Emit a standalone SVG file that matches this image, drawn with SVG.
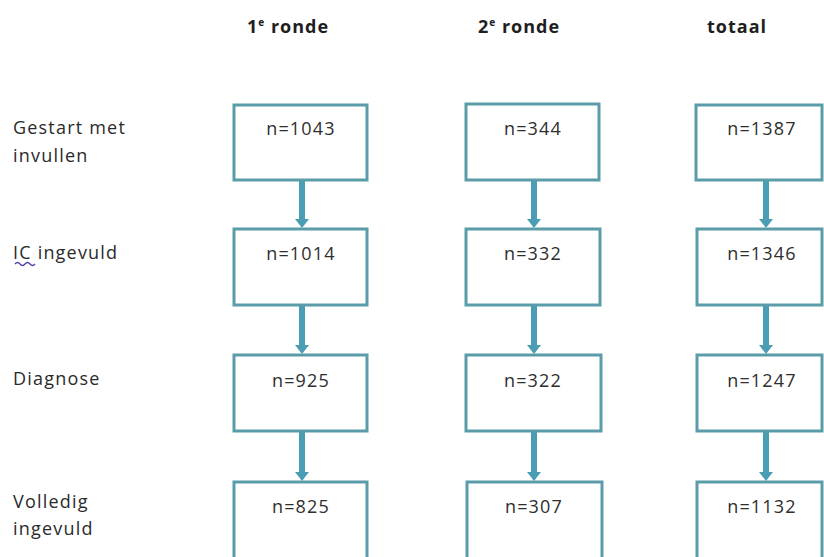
<svg xmlns="http://www.w3.org/2000/svg" width="824" height="557" viewBox="0 0 824 557">
<defs>
<style>
.hdr{font-family:"Open Sans","Liberation Sans",sans-serif;font-weight:bold;font-size:18px;fill:#1e1e1e;letter-spacing:1px}
.lbl{font-family:"Open Sans","Liberation Sans",sans-serif;font-size:18px;fill:#2a2a2a;letter-spacing:1.2px}
.box rect{fill:#ffffff;stroke:#5a9ca7;stroke-width:3}
.box text{font-family:"Open Sans","Liberation Sans",sans-serif;font-size:18px;fill:#2e2e2e;letter-spacing:1.2px;text-anchor:middle}
.conn line{stroke:#4a9db3;stroke-width:6}
</style>
<marker id="ah" markerUnits="userSpaceOnUse" markerWidth="9" markerHeight="14" refX="0" refY="7" viewBox="0 0 9 14" orient="auto">
<path d="M0,0 L9,7 L0,14 Z" fill="#4a9db3"/>
</marker>
</defs>
<rect width="824" height="557" fill="#ffffff"/>

<g id="headers">
<text class="hdr" x="247" y="33">1<tspan font-size="10" dy="-7">e</tspan><tspan dy="7"> ronde</tspan></text>
<text class="hdr" x="478" y="33">2<tspan font-size="10" dy="-7">e</tspan><tspan dy="7"> ronde</tspan></text>
<text class="hdr" x="707" y="33">totaal</text>
</g>

<g id="row-labels">
<text class="lbl" x="13" y="134">Gestart met</text>
<text class="lbl" x="13" y="162">invullen</text>
<text class="lbl" x="13" y="259">IC ingevuld</text>
<path d="M15,264 q2.5,-3 5,0 t5,0 t5,0 t5,0" fill="none" stroke="#4b3fa6" stroke-width="1.3"/>
<text class="lbl" x="13" y="385">Diagnose</text>
<text class="lbl" x="13" y="508">Volledig</text>
<text class="lbl" x="13" y="535">ingevuld</text>
</g>

<g id="connectors" class="conn">
<line x1="302" y1="181" x2="302" y2="219" marker-end="url(#ah)"/>
<line x1="302" y1="306" x2="302" y2="345" marker-end="url(#ah)"/>
<line x1="302" y1="432" x2="302" y2="472" marker-end="url(#ah)"/>
<line x1="534" y1="181" x2="534" y2="219" marker-end="url(#ah)"/>
<line x1="534" y1="306" x2="534" y2="345" marker-end="url(#ah)"/>
<line x1="534" y1="432" x2="534" y2="472" marker-end="url(#ah)"/>
<line x1="766" y1="181" x2="766" y2="219" marker-end="url(#ah)"/>
<line x1="766" y1="306" x2="766" y2="345" marker-end="url(#ah)"/>
<line x1="766" y1="432" x2="766" y2="472" marker-end="url(#ah)"/>
</g>

<g id="r1-start" class="box"><rect x="234" y="105" width="133" height="75"/><text x="301" y="135">n=1043</text></g>
<g id="r1-ic" class="box"><rect x="234" y="229" width="133" height="76"/><text x="301" y="260">n=1014</text></g>
<g id="r1-diag" class="box"><rect x="234" y="355" width="133" height="76"/><text x="301" y="387">n=925</text></g>
<g id="r1-compl" class="box"><rect x="234" y="482" width="133" height="80"/><text x="301" y="513">n=825</text></g>

<g id="r2-start" class="box"><rect x="466" y="104" width="133" height="76"/><text x="533" y="135">n=344</text></g>
<g id="r2-ic" class="box"><rect x="466" y="229" width="134" height="76"/><text x="533" y="260">n=332</text></g>
<g id="r2-diag" class="box"><rect x="466" y="355" width="135" height="76"/><text x="533" y="387">n=322</text></g>
<g id="r2-compl" class="box"><rect x="467" y="482" width="135" height="80"/><text x="534" y="513">n=307</text></g>

<g id="tot-start" class="box"><rect x="696" y="105" width="126" height="75"/><text x="762" y="135">n=1387</text></g>
<g id="tot-ic" class="box"><rect x="697" y="229" width="125" height="76"/><text x="762" y="260">n=1346</text></g>
<g id="tot-diag" class="box"><rect x="697" y="355" width="125" height="76"/><text x="762" y="387">n=1247</text></g>
<g id="tot-compl" class="box"><rect x="697" y="482" width="125" height="80"/><text x="762" y="513">n=1132</text></g>
</svg>
